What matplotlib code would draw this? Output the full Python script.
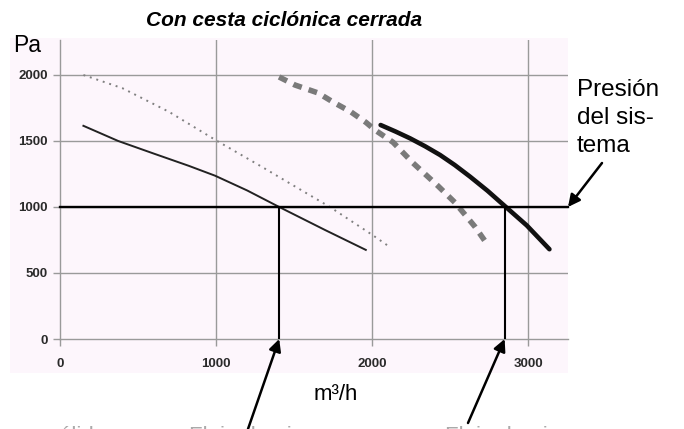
import matplotlib.pyplot as plt
from matplotlib.patches import Rectangle

# curve data (m3/h, Pa)
thin_x = [150, 373, 600, 825, 994, 1200, 1405, 1700, 1960]
thin_y = [1615, 1500, 1405, 1312, 1237, 1125, 1000, 825, 675]

dot_x = [150, 400, 700, 1000, 1300, 1500, 1730, 2000, 2110]
dot_y = [2000, 1900, 1720, 1505, 1300, 1160, 1000, 790, 700]

dash_x = [1404, 1506, 1654, 1750, 1865, 1962, 2019, 2135, 2263, 2423, 2532, 2660, 2737]
dash_y = [1985, 1924, 1864, 1795, 1720, 1640, 1583, 1490, 1333, 1159, 1033, 850, 720]

thick_x = [2055, 2150, 2244, 2340, 2436, 2530, 2628, 2740, 2853, 2992, 3137]
thick_y = [1621, 1572, 1520, 1460, 1394, 1318, 1230, 1123, 1005, 860, 680]

system_pressure = 1000
flow_points = [1405, 2850]

x_ticks = [0, 1000, 2000, 3000]
y_ticks = [0, 500, 1000, 1500, 2000]

W, H = 684, 429


def px(x, y):
    # pixel position (from top-left) to figure fraction
    return x / W, (H - y) / H


fig = plt.figure(figsize=(W / 100, H / 100), dpi=100)
fig.patch.set_facecolor('white')

# pale pink panel behind the plot
x0, y0 = px(10, 373)
fig.patches.append(Rectangle((x0, y0), 558 / W, 335 / H, transform=fig.transFigure,
                             facecolor='#fdf6fc', edgecolor='none', zorder=-5))

l, b = px(60, 339)
r, t = px(568, 40)
ax = fig.add_axes([l, b, r - l, t - b])
ax.set_zorder(2)
ax.set_facecolor('none')
ax.set_xlim(0, 3256)
ax.set_ylim(0, 2265)

grid_col = '#9a9a9a'
for gx in x_ticks[1:]:
    ax.axvline(gx, color=grid_col, lw=1.0, zorder=1)
for gy in y_ticks[1:]:
    ax.axhline(gy, color=grid_col, lw=1.0, zorder=1)

for s in ['top', 'right']:
    ax.spines[s].set_visible(False)
for s in ['left', 'bottom']:
    ax.spines[s].set_color(grid_col)
    ax.spines[s].set_linewidth(1.0)

ax.set_xticks(x_ticks)
ax.set_yticks(y_ticks)
ax.tick_params(direction='out', length=5, width=1.0, color=grid_col,
               labelsize=9.5, labelcolor='#2a2a2a')
ax.tick_params(axis='x', pad=8.5)
ax.tick_params(axis='y', pad=3.6)
for lab in ax.get_xticklabels() + ax.get_yticklabels():
    lab.set_fontweight('bold')
    lab.set_family('Liberation Sans')

# fan curves
ax.plot(thin_x, thin_y, color='#222222', lw=1.4, zorder=3)
ax.plot(dot_x, dot_y, color='#808080', lw=1.4, ls=(0, (1, 2.5)), zorder=3)
ax.plot(dash_x, dash_y, color='#7a7a7a', lw=4, ls=(0, (1.6, 1.3)), zorder=3)
ax.plot(thick_x, thick_y, color='#111111', lw=3.3, solid_capstyle='round', zorder=3)

# system pressure line and flow drop lines
ax.plot([0, 3256], [system_pressure, system_pressure], color='black', lw=1.7, zorder=4,
        clip_on=False)
for fx in flow_points:
    ax.plot([fx, fx], [0, system_pressure], color='black', lw=1.5, zorder=4)

arrow = dict(arrowstyle='-|>', color='black', lw=1.8, mutation_scale=18,
             shrinkA=0, shrinkB=0)
ax.annotate('', xy=(3256, system_pressure), xytext=(602, H - 163),
            textcoords='figure pixels', arrowprops=arrow, annotation_clip=False)
ax.annotate('', xy=(flow_points[0], 0), xytext=(248, 0),
            textcoords='figure pixels', arrowprops=arrow, annotation_clip=False)
ax.annotate('', xy=(flow_points[1], 0), xytext=(468, 6),
            textcoords='figure pixels', arrowprops=arrow, annotation_clip=False)

font = 'Liberation Sans'
fig.text(*px(284, 26), 'Con cesta ciclónica cerrada', ha='center', va='baseline',
         fontsize=15, fontweight='bold', fontstyle='italic', family=font)
fig.text(*px(13, 52), 'Pa', ha='left', va='baseline', fontsize=16.5, family=font)
fig.text(*px(336, 400), 'm³/h', ha='center', va='baseline', fontsize=16, family=font)
fig.text(*px(577, 152), 'Presión\ndel sis-\ntema', ha='left', va='baseline',
         fontsize=17.5, family=font, linespacing=1.36)

# captions cut off at the bottom edge, only their tops show
fig.text(*px(48, 442), 'sólida', ha='left', va='baseline', fontsize=16, color='#aaaaaa', family=font)
fig.text(*px(189, 442), 'Flujo de aire', ha='left', va='baseline', fontsize=16, color='#aaaaaa', family=font)
fig.text(*px(445, 442), 'Flujo de aire', ha='left', va='baseline', fontsize=16, color='#aaaaaa', family=font)

fig.savefig('out.png', dpi=100)
